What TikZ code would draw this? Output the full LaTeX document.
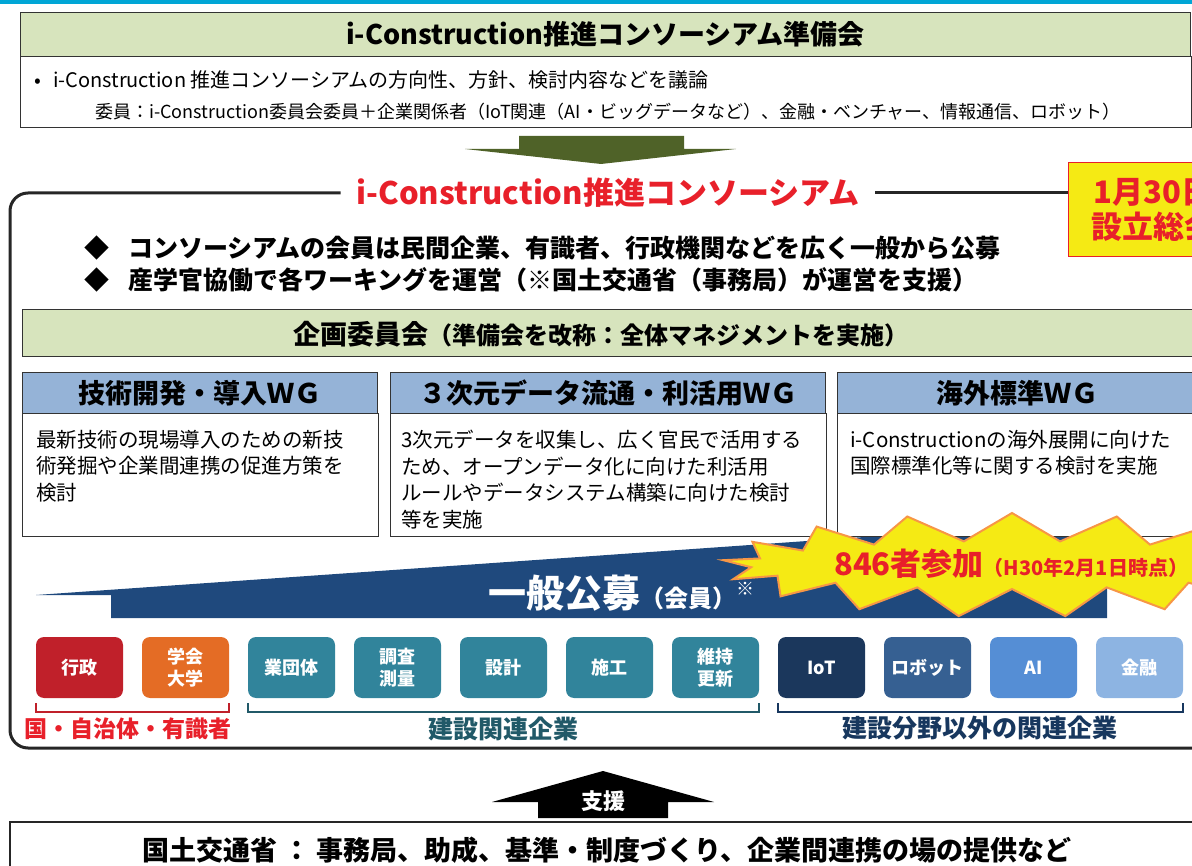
\documentclass[tikz,border=0pt]{standalone}
\usepackage{fontspec}
\setmainfont{Noto Sans CJK JP}
\usetikzlibrary{calc,shapes.symbols}

\definecolor{topcyan}{HTML}{00A6D6}
\definecolor{hdrgreen}{HTML}{D7E4BD}
\definecolor{arrowolive}{HTML}{4F6228}
\definecolor{titlered}{HTML}{E8202A}
\definecolor{wgblue}{HTML}{95B3D7}
\definecolor{koubonavy}{HTML}{1F497D}
\definecolor{burstyellow}{HTML}{F5EA14}
\definecolor{burstorange}{HTML}{F79646}
\definecolor{gyoseired}{HTML}{C0202A}
\definecolor{gakkaiorange}{HTML}{E46C25}
\definecolor{kensetsuteal}{HTML}{31849B}
\definecolor{tealdark}{HTML}{215968}
\definecolor{iotnavy}{HTML}{1B375C}
\definecolor{robotblue}{HTML}{366092}
\definecolor{aiblue}{HTML}{558ED5}
\definecolor{kinyublue}{HTML}{8DB4E2}
\definecolor{navydark}{HTML}{17375E}

\begin{document}
\begin{tikzpicture}[
    x=1pt,
    y=-1pt,
    font=\fontsize{18}{22}\selectfont,
    boxline/.style={draw=black!80, line width=1pt},
    hdrbox/.style={boxline, fill=hdrgreen},
    frame/.style={draw=black!85, line width=3pt, rounded corners=18pt},
    wghead/.style={boxline, fill=wgblue, anchor=north west, minimum height=41pt, inner sep=0pt, font=\bfseries\fontsize{27}{30}\selectfont},
    wgbody/.style={anchor=north west, align=left, inner sep=0pt, font=\fontsize{20.5}{26.5}\selectfont},
    member/.style={rounded corners=8pt, minimum width=87pt, minimum height=61pt, text=white, align=center, inner sep=0pt, font=\bfseries\fontsize{18}{22}\selectfont},
    bracket/.style={line width=1.5pt},
    grouplabel/.style={inner sep=0pt, font=\bfseries\fontsize{25}{28}\selectfont},
    burst/.style={starburst, starburst points=17, starburst point height=28pt, random starburst=0, fill=burstyellow, draw=burstorange, line width=2pt, minimum width=580pt, minimum height=104pt, inner sep=0pt}
]
\useasboundingbox (0,0) rectangle (1192,866);
\clip (0,0) rectangle (1192,866);

% --- Top bar and preparatory meeting ---
\fill[topcyan] (0,0) rectangle (1192,4);
\node[hdrbox, anchor=north west, minimum width=1170pt, minimum height=44pt, inner sep=0pt, font=\bfseries\fontsize{27}{30}\selectfont] (prep) at (20,12) {i-Construction推進コンソーシアム準備会};
\draw[boxline, fill=white] (prep.south west) rectangle (prep.east |- 0,128);
\node[anchor=west, inner sep=0pt, font=\fontsize{20}{24}\selectfont] (prepline) at (34,80) {•\hspace{12pt}i-Construction 推進コンソーシアムの方向性、方針、検討内容などを議論};
\node[anchor=west, inner sep=0pt, font=\fontsize{18}{22}\selectfont] (prepmembers) at (95,112) {委員：i-Construction委員会委員＋企業関係者（IoT関連（AI・ビッグデータなど）、金融・ベンチャー、情報通信、ロボット）};

\fill[arrowolive] (519,136) -- (684,136) -- (684,149) -- (736,149) -- (601,164) -- (465,149) -- (519,149) -- cycle;

% --- Consortium frame ---
\node[inner sep=0pt, text=titlered, font=\bfseries\fontsize{31}{34}\selectfont] (consortium) at (608,193) {i-Construction推進コンソーシアム};
\node[draw=titlered, line width=1pt, fill=burstyellow, text=titlered, align=center, minimum width=170pt, minimum height=94pt, inner sep=0pt, font=\bfseries\fontsize{31}{35}\selectfont] (founding) at (1153,210) {1月30日\\設立総会};
\draw[frame] ([xshift=-16pt]consortium.west) -- (10,193) -- (10,748) -- (1215,748);
\draw[frame] ([xshift=16pt]consortium.east) -- (founding.west |- consortium.east);

\node[anchor=west, inner sep=0pt, font=\bfseries\fontsize{25}{30}\selectfont] (policy1) at (84,248) {◆\hspace{19pt}コンソーシアムの会員は民間企業、有識者、行政機関などを広く一般から公募};
\node[anchor=west, inner sep=0pt, font=\bfseries\fontsize{25}{30}\selectfont] (policy2) at (84,280) {◆\hspace{19pt}産学官協働で各ワーキングを運営（※国土交通省（事務局）が運営を支援）};

\draw[hdrbox] (22,310) rectangle (1215,357);
\node[inner sep=0pt, font=\bfseries\fontsize{27}{30}\selectfont] (planning) at (601,334) {企画委員会{\fontsize{24}{28}\selectfont（準備会を改称：全体マネジメントを実施）}};

% --- Recruitment wedge ---
\fill[koubonavy] (36,595) -- (111,595) -- (111,618) -- (1107,618) -- (1107,520) -- cycle;
\node[anchor=base west, inner sep=0pt, text=white, font=\bfseries\fontsize{38}{40}\selectfont] (koubo) at (488,607) {一般公募{\fontsize{24}{26}\selectfont（会員）}\raisebox{12pt}{\fontsize{18}{20}\selectfont ※}};

% --- Working groups ---
\node[wghead, minimum width=355pt] (tech) at (22,372) {技術開発・導入ＷＧ};
\draw[boxline, fill=white] (tech.south west) rectangle (tech.south east |- 0,536);
\node[wghead, minimum width=435pt] (data) at (390,372) {３次元データ流通・利活用ＷＧ};
\draw[boxline, fill=white] (data.south west) rectangle (data.south east |- 0,536);
\node[wghead, minimum width=360pt] (global) at (837,372) {海外標準ＷＧ};
\draw[boxline, fill=white] (global.south west) rectangle (global.south east |- 0,536);

\node[wgbody] (techtext) at (36,430) {最新技術の現場導入のための新技\\術発掘や企業間連携の促進方策を\\検討};
\node[wgbody] (datatext) at (401,430) {3次元データを収集し、広く官民で活用する\\ため、オープンデータ化に向けた利活用\\ルールやデータシステム構築に向けた検討\\等を実施};
\node[wgbody] (globaltext) at (850,430) {i-Constructionの海外展開に向けた\\国際標準化等に関する検討を実施};

% --- Participants ---
\node[burst] (burst) at (1012,565) {};
\node[anchor=west, inner sep=0pt, text=titlered, font=\bfseries\fontsize{31}{34}\selectfont] (participants) at (834,564) {846者参加{\fontsize{20}{24}\selectfont（H30年2月1日時点）}};

% --- Members ---
\foreach \n/\lab/\col [count=\i from 0] in {gyosei/行政/gyoseired, gakkai/{学会\\大学}/gakkaiorange, gyodan/業団体/kensetsuteal, chosa/{調査\\測量}/kensetsuteal, sekkei/設計/kensetsuteal, seko/施工/kensetsuteal, iji/{維持\\更新}/kensetsuteal, iot/IoT/iotnavy, robot/ロボット/robotblue, ai/AI/aiblue, kinyu/金融/kinyublue} {
    \node[member, fill=\col] (\n) at ({79.5+106*\i},667.5) {\lab};
}

\draw[bracket, gyoseired] ($(gyosei.south west)+(0,5)$) -- ($(gyosei.south west)+(0,14)$) -- ($(gakkai.south east)+(0,14)$) -- ($(gakkai.south east)+(0,5)$);
\draw[bracket, tealdark] ($(gyodan.south west)+(0,5)$) -- ($(gyodan.south west)+(0,14)$) -- ($(iji.south east)+(0,14)$) -- ($(iji.south east)+(0,5)$);
\draw[bracket, navydark] ($(iot.south west)+(0,5)$) -- ($(iot.south west)+(0,14)$) -- ($(kinyu.south east)+(0,14)$) -- ($(kinyu.south east)+(0,5)$);

\node[grouplabel, text=titlered, font=\bfseries\fontsize{23}{26}\selectfont] (govlabel) at (128,729) {国・自治体・有識者};
\node[grouplabel, text=tealdark] (kensetsulabel) at (503,729) {建設関連企業};
\node[grouplabel, text=navydark] (otherlabel) at (980,728) {建設分野以外の関連企業};

% --- Support from the ministry ---
\fill[black] (538,818) -- (538,802) -- (492,802) -- (603,771) -- (714,802) -- (668,802) -- (668,818) -- cycle;
\node[inner sep=0pt, text=white, font=\bfseries\fontsize{22}{24}\selectfont] (support) at (603,801) {支援};
\draw[draw=black!85, line width=2pt] (10,822) rectangle (1215,900);
\node[inner sep=0pt, font=\bfseries\fontsize{27}{30}\selectfont] (mlit) at (607,850) {国土交通省 ： 事務局、助成、基準・制度づくり、企業間連携の場の提供など};

\end{tikzpicture}
\end{document}
